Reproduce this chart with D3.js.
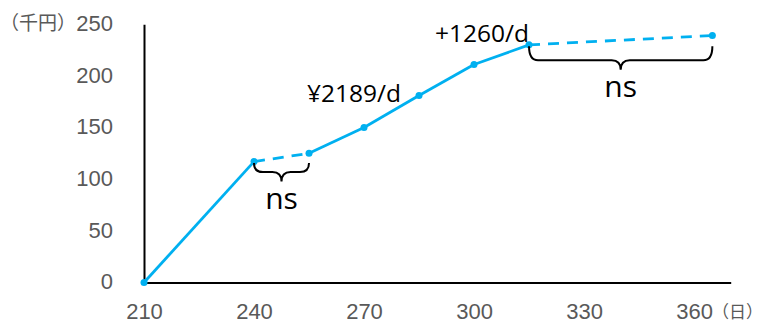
<!DOCTYPE html>
<html><head><meta charset="utf-8">
<script src="https://cdn.jsdelivr.net/npm/d3@7"></script>
<style>
html,body{margin:0;padding:0;background:#fff;}
svg{display:block;}
</style></head>
<body>
<svg id="chart" width="763" height="324"></svg>
<script>
// ---- data ----
const days   = [210, 240, 255, 270, 285, 300, 315, 365];
const values = [0, 117, 125, 150, 181, 211, 230, 239];
// style of each interval between consecutive points
const segStyle = ["solid", "dashed", "solid", "solid", "solid", "solid", "dashed"];
const xTicks = [210, 240, 270, 300, 330, 360];
const yTicks = [0, 50, 100, 150, 200, 250];
const yUnit = "（千円）";
const xUnit = "（日）";
const rateLabels = ["¥2189/d", "+1260/d"];
const nsBraces = [[240, 255], [315, 365]];

// ---- layout ----
const svg = d3.select("#chart");
const x = d3.scaleLinear().domain([210, 370]).range([144, 730.7]);
const y = d3.scaleLinear().domain([0, 250]).range([282.5, 24.2]);
const blue = "#00B0F0";
const tickFont = "'Liberation Sans', Arial, sans-serif";

// axes
const gx = svg.append("g").attr("transform", `translate(0,${y(0)})`)
  .call(d3.axisBottom(x).tickValues(xTicks).tickSize(0).tickPadding(21).tickFormat(d3.format("d")));
const gy = svg.append("g").attr("transform", `translate(${x(210)},0)`)
  .call(d3.axisLeft(y).tickValues(yTicks).tickSize(0).tickPadding(31).tickFormat(d3.format("d")));
[gx, gy].forEach(g => {
  g.select(".domain").attr("stroke", "#000").attr("stroke-width", 2);
  g.selectAll("text").attr("fill", "#595959").attr("font-size", 22).attr("font-family", tickFont);
});
gy.selectAll("text").attr("dy", "0.28em");

// unit labels
svg.append("text").attr("x", 76).attr("y", y(250)).attr("dy", "0.32em")
  .attr("text-anchor", "end").attr("fill", "#595959")
  .attr("font-family", "'Noto Sans CJK JP', sans-serif").attr("font-size", 19)
  .text(yUnit);
svg.append("text").attr("x", 712).attr("y", y(0) + 35).attr("text-anchor", "start")
  .attr("fill", "#595959").attr("font-family", "'Noto Sans CJK JP', sans-serif").attr("font-size", 17)
  .text(xUnit);

// line segments
const pts = days.map((d, i) => [d, values[i]]);
const line = d3.line().x(d => x(d[0])).y(d => y(d[1]));
segStyle.forEach((s, i) => {
  svg.append("path").attr("d", line([pts[i], pts[i + 1]]))
    .attr("fill", "none").attr("stroke", blue).attr("stroke-width", 2.8)
    .attr("stroke-dasharray", s === "dashed" ? "11,8" : null);
});
svg.selectAll("circle.pt").data(pts).enter().append("circle")
  .attr("class", "pt").attr("cx", d => x(d[0])).attr("cy", d => y(d[1]))
  .attr("r", 3.5).attr("fill", blue);

// braces
function brace(x1, x2, yTop, yMid, yTip) {
  const xm = (x1 + x2) / 2, r = 9;
  return `M${x1},${yTop} Q${x1},${yMid} ${x1 + r},${yMid} L${xm - r},${yMid} Q${xm},${yMid} ${xm},${yTip}` +
         ` Q${xm},${yMid} ${xm + r},${yMid} L${x2 - r},${yMid} Q${x2},${yMid} ${x2},${yTop}`;
}
const valAt = d => values[days.indexOf(d)];
const braceDepth = [9, 14];
nsBraces.forEach(([a, b], i) => {
  const x1 = x(a), x2 = x(b);
  const yTop = Math.max(y(valAt(a)), y(valAt(b))) + 1.5;
  const yMid = yTop + braceDepth[i];
  const yTip = yMid + 9.5;
  svg.append("path").attr("d", brace(x1, x2, yTop, yMid, yTip))
    .attr("fill", "none").attr("stroke", "#000").attr("stroke-width", 2);
  svg.append("text").attr("x", (x1 + x2) / 2).attr("y", yTip + 27)
    .attr("text-anchor", "middle").attr("font-family", "'Open Sans', sans-serif")
    .attr("font-size", 30).attr("fill", "#000").text("ns");
});

// rate labels
svg.append("text").attr("x", 307).attr("y", 102).attr("font-family", "'Open Sans', sans-serif")
  .attr("font-size", 24.5).attr("fill", "#000").text(rateLabels[0]);
svg.append("text").attr("x", 435).attr("y", 42).attr("font-family", "'Open Sans', sans-serif")
  .attr("font-size", 24.5).attr("fill", "#000").text(rateLabels[1]);
</script>
</body></html>
